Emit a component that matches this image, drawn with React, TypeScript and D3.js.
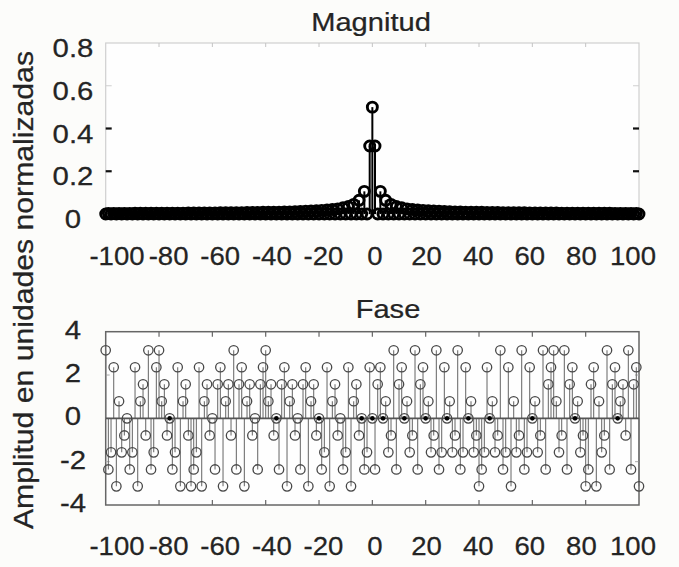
import React from 'react';
import * as d3 from 'd3';

// Harmonic index k runs from -100 to 100 in steps of 1
const kFirst = -100;
const kLast = 100;

const magnitude = [
  0, 0.003, 0, 0.003, 0, 0.003, 0, 0.003, 0, 0.003,
  0, 0.004, 0, 0.004, 0, 0.004, 0, 0.004, 0, 0.004,
  0, 0.004, 0, 0.004, 0, 0.004, 0, 0.004, 0, 0.004,
  0, 0.005, 0, 0.005, 0, 0.005, 0, 0.005, 0, 0.005,
  0, 0.005, 0, 0.006, 0, 0.006, 0, 0.006, 0, 0.006,
  0, 0.006, 0, 0.007, 0, 0.007, 0, 0.007, 0, 0.008,
  0, 0.008, 0, 0.009, 0, 0.009, 0, 0.01, 0, 0.01,
  0, 0.011, 0, 0.012, 0, 0.013, 0, 0.014, 0, 0.015,
  0, 0.017, 0, 0.019, 0, 0.021, 0, 0.024, 0, 0.029,
  0, 0.035, 0, 0.045, 0, 0.064, 0, 0.106, 0, 0.318,
  0.5,
  0.318, 0, 0.106, 0, 0.064, 0, 0.045, 0, 0.035, 0,
  0.029, 0, 0.024, 0, 0.021, 0, 0.019, 0, 0.017, 0,
  0.015, 0, 0.014, 0, 0.013, 0, 0.012, 0, 0.011, 0,
  0.01, 0, 0.01, 0, 0.009, 0, 0.009, 0, 0.008, 0,
  0.008, 0, 0.007, 0, 0.007, 0, 0.007, 0, 0.006, 0,
  0.006, 0, 0.006, 0, 0.006, 0, 0.006, 0, 0.005, 0,
  0.005, 0, 0.005, 0, 0.005, 0, 0.005, 0, 0.005, 0,
  0.004, 0, 0.004, 0, 0.004, 0, 0.004, 0, 0.004, 0,
  0.004, 0, 0.004, 0, 0.004, 0, 0.004, 0, 0.004, 0,
  0.003, 0, 0.003, 0, 0.003, 0, 0.003, 0, 0.003, 0,
];

const phase = [
  3.14, -2.36, -1.57, 2.36, -3.14, 0.79, -1.57, -0.79, 0, -2.36,
  -1.57, 2.36, -3.14, 0.79, 1.57, -0.79, 3.14, -2.36, -1.57, 2.36,
  3.14, 0.79, 1.57, -0.79, 0, -2.36, -1.57, 2.36, -3.14, 0.79,
  1.57, -0.79, -3.14, -2.36, -1.57, 2.36, -3.14, 0.79, 1.57, -0.79,
  0, -2.36, 1.57, 2.36, -3.14, 0.79, 1.57, -0.79, 3.14, -2.36,
  1.57, 2.36, -3.14, 0.79, 1.57, -0.79, 0, -2.36, 1.57, 2.36,
  3.14, 0.79, 1.57, -0.79, 0, -2.36, 1.57, 2.36, -3.14, 0.79,
  1.57, -0.79, 0, -2.36, 1.57, 2.36, -3.14, 0.79, 1.57, -0.79,
  0, -2.36, -1.57, 2.36, -3.14, 0.79, 1.57, -0.79, 0, -2.36,
  -1.57, 2.36, -3.14, 0.79, 1.57, -0.79, 0, -2.36, -1.57, 2.36,
  0,
  -2.36, 1.57, 2.36, 0, 0.79, -1.57, -0.79, 3.14, -2.36, 1.57,
  2.36, 0, 0.79, -1.57, -0.79, 3.14, -2.36, 1.57, 2.36, 0,
  0.79, -1.57, -0.79, 3.14, -2.36, -1.57, 2.36, 0, 0.79, -1.57,
  -0.79, 3.14, -2.36, -1.57, 2.36, 0, 0.79, -1.57, -0.79, -3.14,
  -2.36, -1.57, 2.36, 0, 0.79, -1.57, -0.79, 3.14, -2.36, -1.57,
  2.36, -3.14, 0.79, -1.57, -0.79, 3.14, -2.36, -1.57, 2.36, 0,
  0.79, -1.57, -0.79, 3.14, -2.36, 1.57, 2.36, 3.14, 0.79, -1.57,
  -0.79, 3.14, -2.36, 1.57, 2.36, 0, 0.79, -1.57, -0.79, -3.14,
  -2.36, 1.57, 2.36, -3.14, 0.79, -1.57, -0.79, 3.14, -2.36, 1.57,
  2.36, 0, 0.79, 1.57, -0.79, 3.14, -2.36, 1.57, 2.36, -3.14,
];

// zero-phase markers that look filled (dark centre) in the picture
const filledZeroMarks = [-76, -36, -20, -4, 0, 4, 12, 20, 28, 36, 44, 60, 76, 92];

const xTicks = [-100, -80, -60, -40, -20, 0, 20, 40, 60, 80, 100];
const magTicks = [0, 0.2, 0.4, 0.6, 0.8];
const phaseTicks = [-4, -2, 0, 2, 4];

const titleTop = 'Magnitud';
const titleBottom = 'Fase';
const yLabel = 'Amplitud en unidades normalizadas';

const W = 679;
const H = 567;
const FONT = "'Liberation Sans', Arial, Helvetica, sans-serif";
const INK = '#242424';

const ks = d3.range(kFirst, kLast + 1);

const x = d3.scaleLinear().domain([kFirst, kLast]).range([105.7, 639]);
const xLabel = d3.scaleLinear().domain([kFirst, kLast]).range([117, 633]);
const yMag = d3.scaleLinear().domain([0, 0.8]).range([214, 43]);
const yPh = d3.scaleLinear().domain([-4, 4]).range([505, 331.7]);

type TProps = { x: number; y: number; children: React.ReactNode; size?: number; sx?: number; rotate?: number; anchor?: string };
const Txt = ({ x: tx, y: ty, children, size = 26, sx = 1.13, rotate = 0, anchor = 'middle' }: TProps) => (
  <text
    transform={`translate(${tx},${ty}) rotate(${rotate}) scale(${sx},1)`}
    textAnchor={anchor}
    fontSize={size}
    fontFamily={FONT}
    fill={INK}
    stroke={INK}
    strokeWidth={0.25}
  >
    {children}
  </text>
);

export default function App() {
  const [x0, x1] = x.range();
  const magTop = yMag(0.8);
  const magBot = yMag(0);
  const phTop = yPh(4);
  const phBot = yPh(-4);

  return (
    <svg width={W} height={H} style={{ position: 'absolute', left: 0, top: 0, background: '#fcfcfa' }}>
      <rect x={0} y={0} width={W} height={H} fill="#fcfcfa" />

      {/* ---------- Magnitud ---------- */}
      <Txt x={371} y={31} size={26} sx={1.12}>{titleTop}</Txt>
      <rect x={x0} y={magTop} width={x1 - x0} height={magBot - magTop} fill="#fefefe" stroke="#cfcfcf" strokeWidth={1.2} />
      {xTicks.slice(1, -1).map((t) => (
        <line key={'mt' + t} x1={x(t)} x2={x(t)} y1={magTop} y2={magTop + 4} stroke="#c4c4c4" strokeWidth={1} />
      ))}
      {magTicks.slice(1, -1).map((t) => {
        const dark = t < 0.5;
        return (
          <g key={'my' + t}>
            <line x1={x0} x2={x0 + 6} y1={yMag(t)} y2={yMag(t)} stroke={dark ? '#111' : '#cfcfcf'} strokeWidth={dark ? 2.2 : 1} />
            <line x1={x1 - 6} x2={x1} y1={yMag(t)} y2={yMag(t)} stroke={dark ? '#111' : '#cfcfcf'} strokeWidth={dark ? 2.2 : 1} />
          </g>
        );
      })}
      {magTicks.map((t) => (
        <Txt key={'myl' + t} x={73} y={yMag(t) + 14}>{String(t)}</Txt>
      ))}
      {ks.map((k, i) => (
        <line key={'ms' + k} x1={x(k)} x2={x(k)} y1={yMag(0)} y2={yMag(magnitude[i])} stroke="#000" strokeWidth={2} />
      ))}
      {ks.map((k, i) => (
        <circle key={'mc' + k} cx={x(k)} cy={yMag(magnitude[i])} r={5} fill="none" stroke="#000" strokeWidth={2.9} />
      ))}
      {xTicks.map((t) => (
        <Txt key={'mxl' + t} x={xLabel(t)} y={265} sx={1.06}>{String(t)}</Txt>
      ))}

      {/* ---------- Fase ---------- */}
      <Txt x={388} y={318} size={26} sx={1.12}>{titleBottom}</Txt>
      <rect x={x0} y={phTop} width={x1 - x0} height={phBot - phTop} fill="#fefefe" stroke="#666" strokeWidth={1.5} />
      {xTicks.slice(1, -1).map((t) => (
        <g key={'pt' + t}>
          <line x1={x(t)} x2={x(t)} y1={phTop} y2={phTop + 5} stroke="#666" strokeWidth={1.2} />
          <line x1={x(t)} x2={x(t)} y1={phBot} y2={phBot - 5} stroke="#666" strokeWidth={1.2} />
        </g>
      ))}
      {phaseTicks.slice(1, -1).map((t) => (
        <g key={'py' + t}>
          <line x1={x0} x2={x0 + 4} y1={yPh(t)} y2={yPh(t)} stroke="#aaa" strokeWidth={1} />
          <line x1={x1 - 4} x2={x1} y1={yPh(t)} y2={yPh(t)} stroke="#aaa" strokeWidth={1} />
        </g>
      ))}
      {phaseTicks.map((t) => (
        <Txt key={'pyl' + t} x={73} y={yPh(t) + 7}>{String(t)}</Txt>
      ))}
      {ks.map((k, i) => (
        <line key={'ps' + k} x1={x(k)} x2={x(k)} y1={yPh(0)} y2={yPh(phase[i])} stroke="#727272" strokeWidth={1.1} />
      ))}
      <line x1={x0} x2={x1} y1={yPh(0)} y2={yPh(0)} stroke="#555" strokeWidth={1.7} />
      {ks.map((k, i) => (
        <circle key={'pc' + k} cx={x(k)} cy={yPh(phase[i])} r={4.7} fill="none" stroke="#484848" strokeWidth={1.3} />
      ))}
      {filledZeroMarks.map((k) => (
        <circle key={'pf' + k} cx={x(k)} cy={yPh(0)} r={2.3} fill="#000" />
      ))}
      {xTicks.map((t) => (
        <Txt key={'pxl' + t} x={xLabel(t)} y={555} sx={1.06}>{String(t)}</Txt>
      ))}

      {/* ---------- shared y label ---------- */}
      <text
        transform="translate(33,290) rotate(-90)"
        textAnchor="middle"
        fontSize={28}
        fontFamily={FONT}
        fill={INK}
        stroke={INK}
        strokeWidth={0.25}
        textLength={478}
        lengthAdjust="spacingAndGlyphs"
      >
        {yLabel}
      </text>
    </svg>
  );
}
